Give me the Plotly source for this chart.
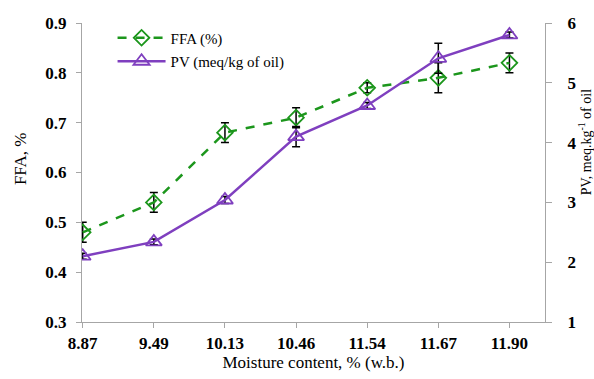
import plotly.graph_objects as go

moisture = ["8.87", "9.49", "10.13", "10.46", "11.54", "11.67", "11.90"]
ffa = [0.48, 0.54, 0.68, 0.71, 0.77, 0.79, 0.82]
ffa_err = [0.02, 0.02, 0.02, 0.02, 0.01, 0.03, 0.02]
pv = [2.10, 2.34, 3.04, 4.10, 4.62, 5.41, 5.80]
pv_err = [0.05, 0.05, 0.06, 0.17, 0.05, 0.25, 0.05]

green = "#1c961c"
purple = "#7f3fbf"
axis_gray = "#a6a6a6"
tick_font = dict(family="Liberation Serif", size=17, color="black", weight="bold")
title_font = dict(family="Liberation Serif", size=17, color="black")

fig = go.Figure()
fig.add_trace(go.Scatter(
    x=moisture, y=ffa, name="FFA (%)", mode="lines+markers", legendgroup="a",
    line=dict(color=green, width=2.5, dash="dash"),
    marker=dict(symbol="diamond-open", size=12, color=green, line=dict(width=1.8)),
    error_y=dict(type="data", array=ffa_err, color="black", thickness=1.5, width=4),
    yaxis="y",
))
fig.add_trace(go.Scatter(
    x=moisture, y=pv, name="PV (meq/kg of oil)", mode="lines+markers", legendgroup="b",
    line=dict(color=purple, width=2.5),
    marker=dict(symbol="triangle-up-open", size=14, color=purple, line=dict(width=1.8)),
    error_y=dict(type="data", array=pv_err, color="black", thickness=1.5, width=4),
    yaxis="y2",
))

fig.update_layout(
    width=594, height=379,
    margin=dict(l=82, r=49, t=23, b=57),
    paper_bgcolor="white", plot_bgcolor="white",
    showlegend=True,
    legend=dict(x=0.066, y=1.005, xanchor="left", yanchor="top",
                bgcolor="rgba(0,0,0,0)", itemwidth=48,
                font=dict(family="Liberation Serif", size=15, color="black"),
                tracegroupgap=1),
    xaxis=dict(
        type="category", range=[-0.01, 6.5], automargin=False,
        showline=True, linecolor=axis_gray, linewidth=1,
        ticks="outside", ticklen=5, tickcolor=axis_gray,
        showgrid=False, zeroline=False, tickfont=tick_font,
        ticklabelstandoff=1,
        title=dict(text="Moisture content, % (w.b.)", font=title_font, standoff=3),
    ),
    yaxis=dict(
        range=[0.3, 0.9], dtick=0.1, tickformat=".1f", automargin=False,
        showline=True, linecolor=axis_gray, linewidth=1,
        ticks="outside", ticklen=5, tickcolor=axis_gray,
        showgrid=False, zeroline=False, tickfont=tick_font,
        ticklabelstandoff=6,
    ),
    yaxis2=dict(
        range=[1, 6], dtick=1, overlaying="y", side="right", automargin=False,
        showline=True, linecolor=axis_gray, linewidth=1,
        ticks="outside", ticklen=6, tickcolor=axis_gray,
        showgrid=False, zeroline=False, tickfont=tick_font,
        ticklabelstandoff=12,
    ),
    annotations=[
        dict(text="FFA, %", xref="paper", yref="paper", x=-0.134, y=0.548,
             xanchor="center", yanchor="middle", textangle=-90, showarrow=False,
             font=title_font),
        dict(text="PV, meq.kg<sup>-1</sup> of oil", xref="paper", yref="paper",
             x=1.087, y=0.602, xanchor="center", yanchor="middle", textangle=-90,
             showarrow=False, font=dict(family="Liberation Serif", size=14, color="black")),
    ],
)

fig.write_html(
    "out.html",
    config={"displayModeBar": False},
    post_script="document.body.style.margin='0';document.body.style.overflow='hidden';",
)
